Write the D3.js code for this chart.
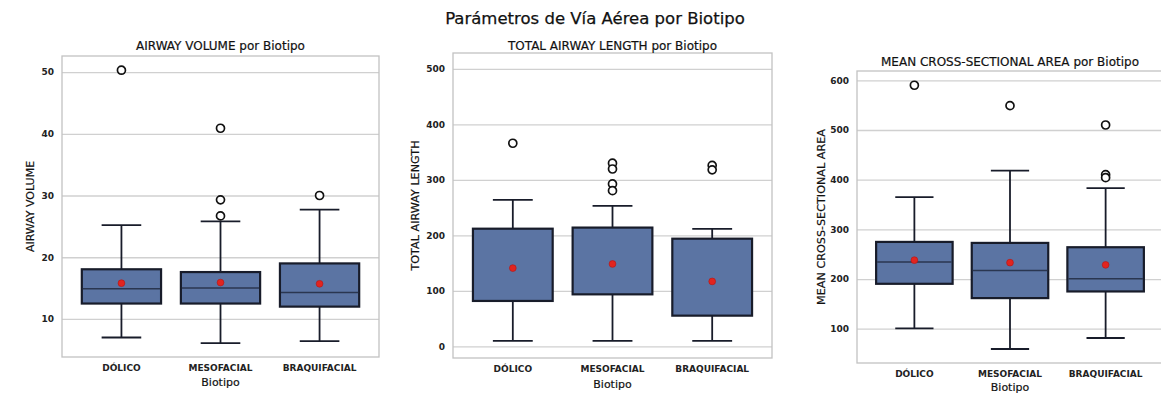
<!DOCTYPE html>
<html>
<head>
<meta charset="utf-8">
<script src="https://cdn.jsdelivr.net/npm/d3@7"></script>
<style>
  body { margin: 0; background: #fff; }
  svg { display: block; font-family: "DejaVu Sans", sans-serif; }
</style>
</head>
<body>
<svg id="chart" width="1161" height="401"></svg>
<script>
// categories and tick labels
var categories = ["DÓLICO", "MESOFACIAL", "BRAQUIFACIAL"];
var volumeTicks = [10, 20, 30, 40, 50];
var lengthTicks = [0, 100, 200, 300, 400, 500];
var areaTicks = [100, 200, 300, 400, 500, 600];

// AIRWAY VOLUME
var volumeLow = [7.0, 6.1, 6.4];
var volumeQ1 = [12.5, 12.5, 12.0];
var volumeMedian = [14.9, 15.0, 14.3];
var volumeQ3 = [18.05, 17.6, 19.0];
var volumeHigh = [25.2, 25.8, 27.7];
var volumeMean = [15.8, 15.9, 15.7];
var volumeOutliers = [[50.3], [40.9, 29.3, 26.7], [30.0]];

// TOTAL AIRWAY LENGTH (median line not visible in the picture)
var lengthLow = [9.7, 9.7, 9.7];
var lengthQ1 = [81.8, 93.7, 55.3];
var lengthMedian = [null, null, null];
var lengthQ3 = [212, 214, 194];
var lengthHigh = [264, 253, 211.5];
var lengthMean = [141, 148.5, 117];
var lengthOutliers = [[366], [330, 319.6, 292.6, 280.5], [326, 318]];

// MEAN CROSS-SECTIONAL AREA
var areaLow = [100.6, 59.2, 81.3];
var areaQ1 = [190.4, 161.6, 175];
var areaMedian = [234.5, 217, 200.4];
var areaQ3 = [274.7, 272.7, 264];
var areaHigh = [365, 418, 383];
var areaMean = [238, 233, 228.5];
var areaOutliers = [[590], [549], [510, 410, 404]];

var boxFill = "#5b74a3";
var boxEdge = "#181c2a";
var medianColor = "#2a3650";
var gridColor = "#d0d0d0";
var frameColor = "#c2c2c2";

function stats(low, q1, med, q3, high, mean, out) {
  return categories.map(function (c, i) {
    return { cat: c, low: low[i], q1: q1[i], med: med[i], q3: q3[i], high: high[i], mean: mean[i], out: out[i] };
  });
}

var panels = [
  {
    title: "AIRWAY VOLUME por Biotipo", ylabel: "AIRWAY VOLUME",
    ticks: volumeTicks, domain: [3.84, 52.6],
    left: 62, right: 379, top: 56, bottom: 357,
    titleY: 50, ylabelX: 30, ylabelSize: 11, xlabY: 386,
    data: stats(volumeLow, volumeQ1, volumeMedian, volumeQ3, volumeHigh, volumeMean, volumeOutliers)
  },
  {
    title: "TOTAL AIRWAY LENGTH por Biotipo", ylabel: "TOTAL AIRWAY LENGTH",
    ticks: lengthTicks, domain: [-21, 528.6],
    left: 453, right: 772, top: 53, bottom: 358,
    titleY: 50, ylabelX: 415, ylabelSize: 11.2, xlabY: 388,
    data: stats(lengthLow, lengthQ1, lengthMedian, lengthQ3, lengthHigh, lengthMean, lengthOutliers)
  },
  {
    title: "MEAN CROSS-SECTIONAL AREA por Biotipo", ylabel: "MEAN CROSS-SECTIONAL AREA",
    ticks: areaTicks, domain: [31, 618.7],
    left: 857, right: 1163, top: 71, bottom: 363,
    titleY: 66, ylabelX: 821, ylabelSize: 11.2, xlabY: 391,
    data: stats(areaLow, areaQ1, areaMedian, areaQ3, areaHigh, areaMean, areaOutliers)
  }
];

var svg = d3.select("#chart");

svg.append("text")
  .attr("x", 595)
  .attr("y", 23.5)
  .attr("text-anchor", "middle")
  .attr("font-size", 16.5)
  .attr("fill", "#111")
  .attr("stroke", "#111")
  .attr("stroke-width", 0.25)
  .text("Parámetros de Vía Aérea por Biotipo");

panels.forEach(function (p) {
  var w = p.right - p.left;
  var h = p.bottom - p.top;
  var x = d3.scaleBand().domain(categories).range([0, w]).padding(0.2);
  var y = d3.scaleLinear().domain(p.domain).range([h, 0]);

  var g = svg.append("g").attr("transform", "translate(" + p.left + "," + p.top + ")");

  // gridlines
  g.append("g")
    .call(d3.axisLeft(y).tickValues(p.ticks).tickSize(-w).tickFormat(""))
    .call(function (a) {
      a.select(".domain").remove();
      a.selectAll("line").attr("stroke", gridColor).attr("stroke-width", 1.3);
    });

  // frame
  g.append("rect")
    .attr("width", w)
    .attr("height", h)
    .attr("fill", "none")
    .attr("stroke", frameColor)
    .attr("stroke-width", 1.3);

  // y tick labels
  g.append("g")
    .call(d3.axisLeft(y).tickValues(p.ticks).tickSize(0).tickPadding(8))
    .call(function (a) {
      a.select(".domain").remove();
      a.selectAll("text")
        .attr("font-size", 9)
        .attr("font-weight", "bold")
        .attr("font-family", "DejaVu Sans")
        .attr("fill", "#222");
    });

  // x tick labels
  g.append("g")
    .attr("transform", "translate(0," + h + ")")
    .call(d3.axisBottom(x).tickSize(0).tickPadding(8))
    .call(function (a) {
      a.select(".domain").remove();
      a.selectAll("text")
        .attr("font-size", 9)
        .attr("font-weight", "bold")
        .attr("font-family", "DejaVu Sans")
        .attr("fill", "#222");
    });

  // boxes
  var bw = x.bandwidth();
  var box = g.selectAll(".box").data(p.data).enter().append("g")
    .attr("class", "box")
    .attr("transform", function (d) { return "translate(" + (x(d.cat) + bw / 2) + ",0)"; });

  box.append("line")
    .attr("y1", function (d) { return y(d.high); })
    .attr("y2", function (d) { return y(d.q3); })
    .attr("stroke", boxEdge).attr("stroke-width", 1.8);
  box.append("line")
    .attr("y1", function (d) { return y(d.q1); })
    .attr("y2", function (d) { return y(d.low); })
    .attr("stroke", boxEdge).attr("stroke-width", 1.8);
  [function (d) { return y(d.high); }, function (d) { return y(d.low); }].forEach(function (f) {
    box.append("line")
      .attr("x1", -bw / 4).attr("x2", bw / 4)
      .attr("y1", f).attr("y2", f)
      .attr("stroke", boxEdge).attr("stroke-width", 1.8);
  });

  box.append("rect")
    .attr("x", -bw / 2)
    .attr("width", bw)
    .attr("y", function (d) { return y(d.q3); })
    .attr("height", function (d) { return y(d.q1) - y(d.q3); })
    .attr("fill", boxFill)
    .attr("stroke", boxEdge)
    .attr("stroke-width", 2.2);

  box.filter(function (d) { return d.med != null; })
    .append("line")
    .attr("x1", -bw / 2 + 1).attr("x2", bw / 2 - 1)
    .attr("y1", function (d) { return y(d.med); })
    .attr("y2", function (d) { return y(d.med); })
    .attr("stroke", medianColor).attr("stroke-width", 1.5);

  box.append("circle")
    .attr("r", 3.4)
    .attr("cy", function (d) { return y(d.mean); })
    .attr("fill", "#e2241f")
    .attr("stroke", "#b01515")
    .attr("stroke-width", 0.6);

  box.selectAll(".out").data(function (d) { return d.out; }).enter().append("circle")
    .attr("class", "out")
    .attr("r", 4)
    .attr("cy", function (v) { return y(v); })
    .attr("fill", "#fff")
    .attr("stroke", "#111")
    .attr("stroke-width", 1.7);

  // titles and axis labels
  svg.append("text")
    .attr("x", p.left + w / 2)
    .attr("y", p.titleY)
    .attr("text-anchor", "middle")
    .attr("font-size", 12)
    .attr("fill", "#111")
    .attr("stroke", "#111")
    .attr("stroke-width", 0.2)
    .text(p.title);

  svg.append("text")
    .attr("transform", "translate(" + p.ylabelX + "," + (p.top + h / 2) + ") rotate(-90)")
    .attr("text-anchor", "middle")
    .attr("dy", "0.35em")
    .attr("font-size", p.ylabelSize)
    .attr("fill", "#111")
    .attr("stroke", "#111")
    .attr("stroke-width", 0.2)
    .text(p.ylabel);

  svg.append("text")
    .attr("x", p.left + w / 2)
    .attr("y", p.xlabY)
    .attr("text-anchor", "middle")
    .attr("font-size", 11)
    .attr("fill", "#111")
    .attr("stroke", "#111")
    .attr("stroke-width", 0.2)
    .text("Biotipo");
});
</script>
</body>
</html>
